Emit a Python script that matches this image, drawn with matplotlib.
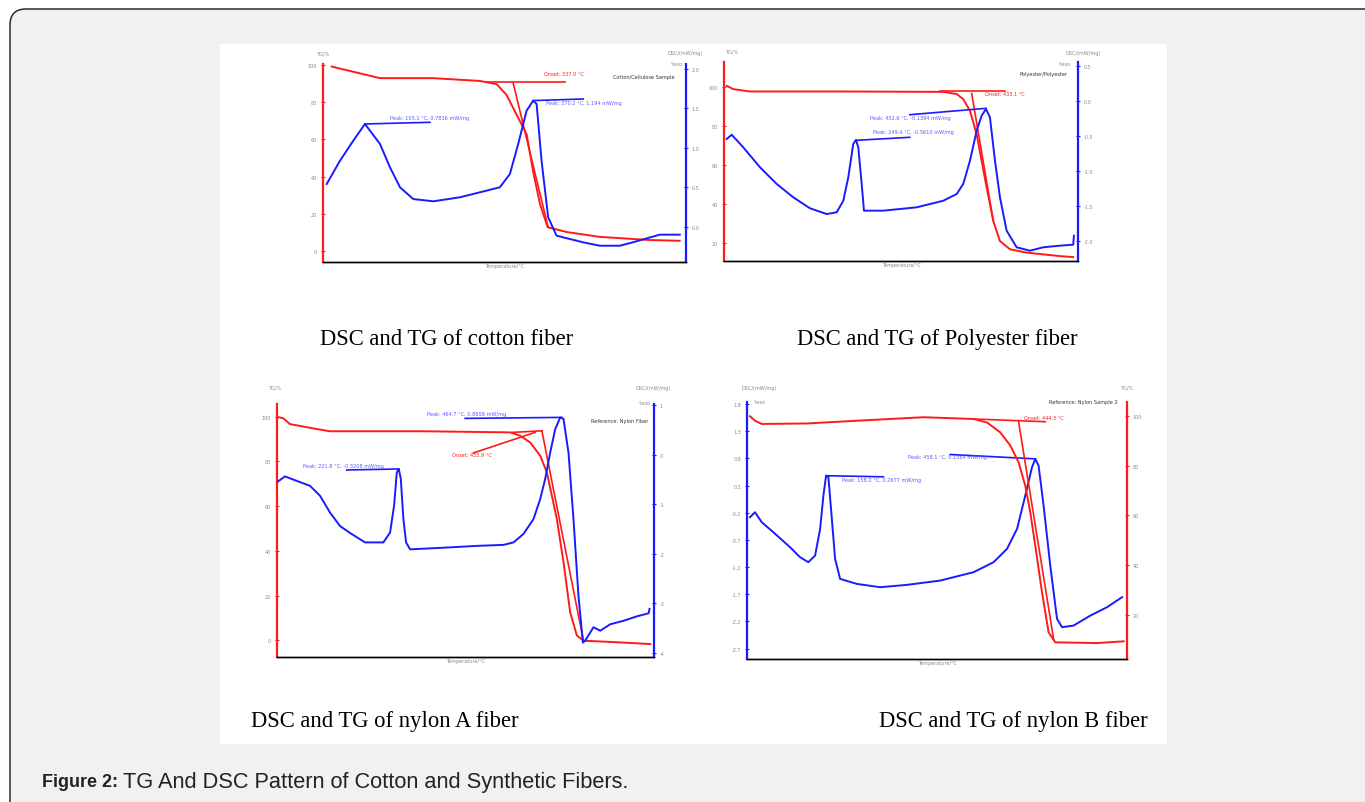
import matplotlib
matplotlib.use("Agg")
import matplotlib.pyplot as plt
from matplotlib.patches import FancyBboxPatch, Rectangle

W, H = 1365, 803

# ─── Data ─────────────────────────────────────────────────────────────────────
X_TICKS = [100, 200, 300, 400, 500, 600]

# cotton
COT_TG_T = [50.7, 126.8, 210, 284, 310.5, 326, 342, 358, 368, 379, 391, 421, 473, 552, 599]
COT_TG = [99.1, 92.9, 92.9, 91.4, 89.7, 84.0, 73.3, 62.6, 42.9, 25.1, 12.8, 10.2, 7.6, 5.9, 5.5]
COT_DSC_T = [42.8, 63.8, 84.7, 103.1, 126.8, 142.5, 158.3, 179.2, 210.7, 252.7, 284.2, 315.7,
             331.5, 344.6, 357.8, 368.2, 373.6, 381.4, 391.8, 405, 447, 473.3, 504.7, 525.2,
             567.7, 599.2]
COT_DSC = [0.544, 0.839, 1.092, 1.304, 1.051, 0.756, 0.503, 0.354, 0.325, 0.376, 0.439, 0.503,
           0.671, 1.051, 1.472, 1.599, 1.557, 0.839, 0.123, -0.110, -0.194, -0.237, -0.237,
           -0.194, -0.097, -0.097]
COT_TG_TICKS = [0, 20, 40, 60, 80, 100]
COT_DSC_TICKS = [0.0, 0.5, 1.0, 1.5, 2.0]

# polyester
PET_TG_T = [44.3, 54.8, 81.3, 229.4, 388.1, 409.4, 419.8, 430.5, 441.1, 449, 457, 467.5, 478.1,
            494, 520.5, 546.8, 573.3, 594.4]
PET_TG = [100.5, 98.8, 97.6, 97.6, 97.4, 96.3, 93.7, 87.7, 75.7, 62.1, 48.4, 31.3, 21.0, 16.8,
          15.1, 14.2, 13.3, 12.8]
PET_DSC_T = [44.3, 52.2, 70.6, 97.1, 123.7, 150, 176.5, 203, 218.9, 229.4, 237.3, 245.2, 249.5,
             253.2, 258.6, 262.2, 292.9, 345.9, 388.1, 409.4, 419.8, 430.5, 441.1, 449, 455.9,
             462.2, 470.2, 478.1, 488.7, 504.6, 525.7, 546.8, 573.3, 594.4, 595.5]
PET_DSC = [-0.547, -0.486, -0.666, -0.951, -1.19, -1.38, -1.537, -1.619, -1.594, -1.429, -1.094,
           -0.619, -0.561, -0.666, -1.19, -1.571, -1.571, -1.523, -1.429, -1.333, -1.19, -0.857,
           -0.429, -0.214, -0.119, -0.237, -0.857, -1.38, -1.857, -2.094, -2.143, -2.094,
           -2.071, -2.057, -1.929]
PET_TG_TICKS = [20, 40, 60, 80, 100]
PET_DSC_TICKS = [-2.0, -1.5, -1.0, -0.5, 0.0, 0.5]

# nylon A
NYA_TG_T = [40, 49.9, 60, 100.2, 120.2, 260.5, 390.8, 405.9, 420.9, 435.9, 446, 453.5, 461, 471,
            481, 491.1, 501, 551.3, 601.4]
NYA_TG = [100, 99.3, 96.7, 94.5, 93.5, 93.5, 93.0, 91.5, 88.5, 82.6, 75.1, 64.7, 54.2, 34.9, 12.5,
          2.1, -0.2, -0.9, -1.7]
NYA_DSC_T = [40, 52.5, 70.1, 90.1, 105.1, 120.2, 135.2, 150.2, 172.8, 200.3, 210.4, 216.4, 220.5,
             223.5, 226.5, 230.4, 234.4, 240.5, 300.6, 340.8, 380.8, 395.8, 410.8, 425.9, 435.9,
             443.5, 451, 458.5, 466, 471, 478.5, 486, 493.5, 500.2, 503.6, 516.1, 526.2, 541.2,
             561.2, 581.4, 598.8, 600.3]
NYA_DSC = [-0.56, -0.44, -0.53, -0.63, -0.83, -1.17, -1.44, -1.58, -1.77, -1.77, -1.57, -1.03,
           -0.36, -0.29, -0.49, -1.30, -1.77, -1.91, -1.87, -1.84, -1.82, -1.77, -1.60, -1.30,
           -0.90, -0.49, 0.04, 0.51, 0.75, 0.72, 0.04, -1.30, -2.85, -3.79, -3.75, -3.48, -3.55,
           -3.42, -3.35, -3.26, -3.20, -3.11]
NYA_TG_TICKS = [0, 20, 40, 60, 80, 100]
NYA_DSC_TICKS = [-4, -3, -2, -1, 0, 1]

# nylon B
NYB_TG_T = [42.6, 50.1, 60.2, 127.5, 202.4, 302.1, 377, 397, 417, 432, 444.3, 454.3, 461.8, 469.3,
            479.3, 489.2, 499.2, 561.6, 601.5]
NYB_TG = [99.8, 98.0, 96.7, 96.9, 98.0, 99.4, 98.7, 97.3, 93.3, 88.0, 81.3, 71.9, 61.2, 47.8, 29.1,
          13.0, 9.0, 8.7, 9.4]
NYB_DSC_T = [42.6, 50.1, 60.2, 77.5, 102.5, 117.5, 129.9, 140, 147.5, 152.4, 156.4, 159.9, 163.4,
             169.9, 177.4, 202.4, 237.3, 277.2, 327.1, 377, 406.9, 427, 442, 454.3, 464.4, 469.3,
             474.2, 481.7, 491.7, 501.8, 509.3, 526.6, 551.6, 576.6, 599.1]
NYB_DSC = [-0.283, -0.191, -0.375, -0.559, -0.834, -1.018, -1.110, -0.989, -0.498, 0.114, 0.482,
           0.453, -0.069, -1.049, -1.417, -1.509, -1.570, -1.527, -1.448, -1.294, -1.110, -0.865,
           -0.498, 0.114, 0.636, 0.789, 0.666, -0.069, -1.172, -2.152, -2.305, -2.275, -2.092,
           -1.937, -1.753]
NYB_TG_TICKS = [20, 40, 60, 80, 100]
NYB_DSC_TICKS = [-2.7, -2.2, -1.7, -1.2, -0.7, -0.2, 0.3, 0.8, 1.3, 1.8]

CAPTIONS = ["DSC and TG of cotton fiber", "DSC and TG of Polyester fiber",
            "DSC and TG of nylon A fiber", "DSC and TG of nylon B fiber"]

RED = "#ff1a1a"
BLUE = "#1a1aff"
TXT_BLUE = "#5a5aff"
GRAY = "#8a8a8a"


def px_axes(fig, l, t, r, b):
    return fig.add_axes([l / W, 1 - b / H, (r - l) / W, (b - t) / H])


def style_pair(ax, tw, left_col, right_col, xlim, ylim_l, ylim_r, ticks_l, ticks_r, fmt_l, fmt_r):
    ax.set_xlim(xlim)
    ax.set_ylim(ylim_l)
    tw.set_ylim(ylim_r)
    for a in (ax, tw):
        a.patch.set_visible(False)
        a.spines["top"].set_visible(False)
        a.spines["bottom"].set_color("black")
        a.spines["bottom"].set_linewidth(1.0)
    ax.spines["right"].set_visible(False)
    tw.spines["left"].set_visible(False)
    ax.spines["left"].set_color(left_col)
    ax.spines["left"].set_linewidth(1.6)
    tw.spines["right"].set_color(right_col)
    tw.spines["right"].set_linewidth(1.6)
    ax.set_xticks(X_TICKS)
    ax.set_xticklabels([str(v) for v in X_TICKS])
    ax.tick_params(axis="x", direction="inout", length=3, width=0.8, labelsize=3.5,
                   labelcolor=GRAY, pad=2)
    ax.set_yticks(ticks_l)
    ax.set_yticklabels([fmt_l.format(v) for v in ticks_l])
    ax.tick_params(axis="y", direction="inout", length=2.5, width=0.8, color=left_col,
                   labelsize=3.5, labelcolor=GRAY, pad=3)
    tw.set_yticks(ticks_r)
    tw.set_yticklabels([fmt_r.format(v) for v in ticks_r])
    tw.tick_params(axis="y", direction="inout", length=2.5, width=0.8, color=right_col,
                   labelsize=3.5, labelcolor=GRAY, pad=3)
    tw.set_xticks([])
    ax.set_xlabel("Temperature/°C", fontsize=3.5, color=GRAY, labelpad=1)


fig = plt.figure(figsize=(W / 100, H / 100), dpi=100)

# page background: grey rounded box + white picture area
bg = fig.add_axes([0, 0, 1, 1])
bg.set_xlim(0, W)
bg.set_ylim(H, 0)
bg.axis("off")
bg.add_patch(FancyBboxPatch((10, 10), 1380, 810, boxstyle="round,pad=0,rounding_size=16",
                            facecolor="#f0f1f3", edgecolor="#2b2b2b", linewidth=1.1))
bg.add_patch(Rectangle((220, 45), 947, 700, facecolor="white", edgecolor="none"))
bg.text(42, 783, "Figure 2:", fontsize=13, fontweight="bold", family="Liberation Sans",
        color="#222222", va="center")
bg.text(123, 783, "TG And DSC Pattern of Cotton and Synthetic Fibers.", fontsize=15.7,
        family="Liberation Sans", color="#222222", va="center")
for cap, (cx, cy) in zip(CAPTIONS, [(447, 340), (937, 340), (385, 722), (1013, 722)]):
    bg.text(cx, cy, cap, fontsize=16.3, family="Liberation Serif", ha="center", va="center",
            color="black")

tiny = dict(fontsize=3.6)

# ─── (a) cotton ───────────────────────────────────────────────────────────────
ax = px_axes(fig, 323, 65, 686, 263)
tw = ax.twinx()
style_pair(ax, tw, RED, BLUE, (37, 609), (-5.9, 100.5), (-0.443, 2.063),
           COT_TG_TICKS, COT_DSC_TICKS, "{:g}", "{:.1f}")
ax.plot(COT_TG_T, COT_TG, color=RED, lw=1.4)
ax.plot([295, 418], [91.0, 91.0], color=RED, lw=1.2)
ax.plot([336.7, 391.8], [90.2, 12.7], color=RED, lw=1.2)
ax.text(386, 94.5, "Onset: 337.0 °C", color=RED, **tiny)
ax.text(494, 93, "Cotton/Cellulose Sample", color="#333333", **tiny)
tw.plot(COT_DSC_T, COT_DSC, color=BLUE, lw=1.4)
tw.plot([103.1, 205.5], [1.304, 1.325], color=BLUE, lw=1.2)
tw.plot([368.2, 447], [1.60, 1.62], color=BLUE, lw=1.2)
tw.text(142, 1.37, "Peak: 103.1 °C, 0.7836 mW/mg", color=TXT_BLUE, **tiny)
tw.text(389, 1.56, "Peak: 370.2 °C, 1.194 mW/mg", color=TXT_BLUE, **tiny)
bg.text(316, 56, "TG/%", color=GRAY, **tiny)
bg.text(668, 55, "DSC/(mW/mg)", color=GRAY, **tiny)
bg.text(670, 66, "↑exo", color=GRAY, **tiny)

# ─── (b) polyester ────────────────────────────────────────────────────────────
ax = px_axes(fig, 724, 63, 1078, 262)
tw = ax.twinx()
style_pair(ax, tw, RED, BLUE, (40, 602), (10.8, 112.7), (-2.29, 0.553),
           PET_TG_TICKS, PET_DSC_TICKS, "{:g}", "{:.1f}")
ax.plot(PET_TG_T, PET_TG, color=RED, lw=1.4)
ax.plot([383, 486], [97.9, 97.9], color=RED, lw=1.2)
ax.plot([433.2, 467.5], [96.6, 31.3], color=RED, lw=1.2)
ax.text(454, 95.8, "Onset: 433.1 °C", color=RED, **tiny)
tw.plot(PET_DSC_T, PET_DSC, color=BLUE, lw=1.4)
tw.plot([249.5, 335], [-0.566, -0.523], color=BLUE, lw=1.2)
tw.plot([335, 455.9], [-0.20, -0.109], color=BLUE, lw=1.2)
tw.text(271, -0.26, "Peak: 452.6 °C, -0.1384 mW/mg", color=TXT_BLUE, **tiny)
tw.text(276, -0.46, "Peak: 249.4 °C, -0.5610 mW/mg", color=TXT_BLUE, **tiny)
bg.text(725, 54, "TG/%", color=GRAY, **tiny)
bg.text(1066, 55, "DSC/(mW/mg)", color=GRAY, **tiny)
bg.text(1058, 66, "↑exo", color=GRAY, **tiny)
bg.text(1068, 76, "Polyester/Polyester", color="#333333", ha="right", **tiny)

# ─── (c) nylon A ──────────────────────────────────────────────────────────────
ax = px_axes(fig, 276.7, 405, 654, 658)
tw = ax.twinx()
style_pair(ax, tw, RED, BLUE, (40, 607), (-7.5, 105.7), (-4.08, 1.02),
           NYA_TG_TICKS, NYA_DSC_TICKS, "{:g}", "{:g}")
ax.plot(NYA_TG_T, NYA_TG, color=RED, lw=1.4)
ax.plot([335.6, 428.4], [83.8, 93.0], color=RED, lw=1.2)
ax.plot([394, 438.5], [93.0, 93.7], color=RED, lw=1.2)
ax.plot([438.5, 501], [93.7, -0.2], color=RED, lw=1.2)
ax.text(303, 82.3, "Onset: 433.9 °C", color=RED, **tiny)
tw.plot(NYA_DSC_T, NYA_DSC, color=BLUE, lw=1.4)
tw.plot([145.3, 223.5], [-0.31, -0.29], color=BLUE, lw=1.2)
tw.plot([323.2, 468.6], [0.73, 0.75], color=BLUE, lw=1.2)
tw.text(80, -0.25, "Peak: 221.8 °C, -0.3208 mW/mg", color=TXT_BLUE, **tiny)
tw.text(265.6, 0.79, "Peak: 464.7 °C, 0.8658 mW/mg", color=TXT_BLUE, **tiny)
bg.text(268, 390, "TG/%", color=GRAY, **tiny)
bg.text(636, 390, "DSC/(mW/mg)", color=GRAY, **tiny)
bg.text(638, 405, "↑exo", color=GRAY, **tiny)
bg.text(648, 423, "Reference: Nylon Fiber", color="#333333", ha="right", **tiny)

# ─── (d) nylon B ──────────────────────────────────────────────────────────────
ax = px_axes(fig, 747.3, 403.3, 1126.7, 660)
tw = ax.twinx()
style_pair(ax, tw, BLUE, RED, (38.6, 606), (-2.89, 1.83), (2.3, 105.4),
           NYB_DSC_TICKS, NYB_TG_TICKS, "{:.1f}", "{:g}")
ax.plot(NYB_DSC_T, NYB_DSC, color=BLUE, lw=1.4)
ax.plot([156.4, 242.2], [0.48, 0.46], color=BLUE, lw=1.2)
ax.plot([342, 469.3], [0.87, 0.79], color=BLUE, lw=1.2)
ax.text(180, 0.39, "Peak: 158.0 °C, 0.2677 mW/mg", color=TXT_BLUE, **tiny)
ax.text(279.6, 0.80, "Peak: 458.1 °C, 0.1564 mW/mg", color=TXT_BLUE, **tiny)
tw.plot(NYB_TG_T, NYB_TG, color=RED, lw=1.4)
tw.plot([377, 484.3], [98.7, 97.6], color=RED, lw=1.2)
tw.plot([444.3, 496.7], [97.6, 10.3], color=RED, lw=1.2)
tw.text(451.8, 98.6, "Onset: 444.3 °C", color=RED, **tiny)
bg.text(742, 390, "DSC/(mW/mg)", color=GRAY, **tiny)
bg.text(753, 404, "↑exo", color=GRAY, **tiny)
bg.text(1120, 390, "TG/%", color=GRAY, **tiny)
bg.text(1118, 404, "Reference: Nylon Sample 2", color="#333333", ha="right", **tiny)

fig.savefig("out.png", dpi=100)
